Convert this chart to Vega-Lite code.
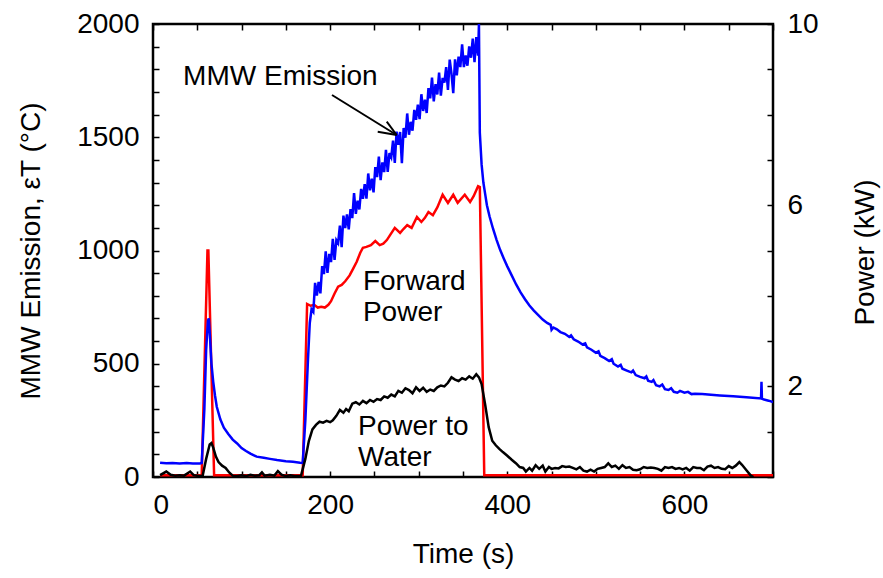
{
  "$schema": "https://vega.github.io/schema/vega-lite/v6.json",
  "width": 620,
  "height": 453,
  "autosize": {"type": "none"},
  "padding": {"left": 153, "top": 24, "right": 110, "bottom": 101},
  "background": "white",
  "config": {
    "view": {"stroke": "black", "strokeWidth": 2.5},
    "axis": {
      "labelFont": "Liberation Sans", "labelFontSize": 28, "labelColor": "black",
      "titleFont": "Liberation Sans", "titleFontSize": 28, "titleFontWeight": "normal", "titleColor": "black",
      "tickColor": "black", "tickWidth": 1.5, "domain": false, "grid": false, "labelPadding": 14
    },
    "text": {"font": "Liberation Sans", "fontSize": 28, "color": "black"}
  },
  "datasets": {
    "blue": [
      {"t":8,"v":63},{"t":15,"v":61},{"t":22,"v":62},{"t":30,"v":60},{"t":38,"v":62},{"t":45,"v":60},{"t":53,"v":60},{"t":55,"v":62},{"t":58,"v":300},{"t":60,"v":560},{"t":62,"v":690},{"t":63,"v":700},{"t":64,"v":640},{"t":66,"v":500},{"t":68,"v":420},{"t":70,"v":360},{"t":72,"v":310},{"t":76,"v":255},{"t":80,"v":218},{"t":85,"v":190},{"t":90,"v":165},{"t":95,"v":148},{"t":100,"v":128},{"t":105,"v":115},{"t":110,"v":103},{"t":117,"v":90},{"t":125,"v":85},{"t":132,"v":80},{"t":140,"v":75},{"t":150,"v":70},{"t":158,"v":67},{"t":166,"v":63},{"t":169,"v":62},{"t":172,"v":250},{"t":175,"v":520},{"t":177,"v":680},
      {"t":179,"v":740},{"t":181,"v":729},{"t":183,"v":857},{"t":185,"v":801},{"t":187,"v":861},{"t":189,"v":811},{"t":191,"v":931},{"t":193,"v":896},{"t":195,"v":996},{"t":197,"v":901},{"t":199,"v":985},{"t":201,"v":949},{"t":203,"v":1051},{"t":205,"v":958},{"t":207,"v":1046},{"t":209,"v":1033},{"t":211,"v":1110},{"t":213,"v":1015},{"t":215,"v":1154},{"t":217,"v":1099},{"t":219,"v":1159},{"t":221,"v":1093},{"t":223,"v":1183},{"t":225,"v":1143},{"t":227,"v":1253},{"t":229,"v":1162},{"t":231,"v":1220},{"t":233,"v":1181},{"t":235,"v":1272},{"t":237,"v":1228},{"t":239,"v":1293},{"t":241,"v":1229},{"t":243,"v":1340},{"t":245,"v":1266},{"t":247,"v":1317},{"t":249,"v":1257},{"t":251,"v":1368},{"t":253,"v":1324},{"t":255,"v":1415},{"t":257,"v":1311},{"t":259,"v":1389},{"t":261,"v":1346},{"t":263,"v":1444},{"t":265,"v":1347},{"t":267,"v":1430},{"t":269,"v":1412},{"t":271,"v":1485},{"t":273,"v":1387},{"t":275,"v":1525},{"t":277,"v":1467},{"t":279,"v":1523},{"t":281,"v":1385},{"t":283,"v":1541},{"t":285,"v":1498},{"t":287,"v":1605},{"t":289,"v":1511},{"t":291,"v":1568},{"t":293,"v":1529},{"t":295,"v":1621},{"t":297,"v":1577},{"t":299,"v":1644},{"t":301,"v":1580},{"t":303,"v":1690},{"t":305,"v":1616},{"t":307,"v":1666},{"t":309,"v":1607},{"t":311,"v":1717},{"t":313,"v":1672},{"t":315,"v":1763},{"t":317,"v":1658},{"t":319,"v":1734},{"t":321,"v":1689},{"t":323,"v":1785},{"t":325,"v":1684},{"t":327,"v":1762},{"t":329,"v":1741},{"t":331,"v":1810},{"t":333,"v":1709},{"t":335,"v":1843},{"t":337,"v":1781},{"t":339,"v":1695},{"t":341,"v":1844},{"t":343,"v":1773},{"t":345,"v":1856},{"t":347,"v":1810},{"t":349,"v":1910},{"t":351,"v":1810},{"t":353,"v":1861},{"t":355,"v":1816},{"t":357,"v":1901},{"t":359,"v":1851},{"t":361,"v":1936},{"t":363,"v":1832},{"t":365,"v":1942},{"t":367,"v":1860},
      {"t":368,"v":2000},{"t":369,"v":1520},{"t":371,"v":1380},{"t":373,"v":1300},{"t":375,"v":1250},{"t":377,"v":1200},{"t":380,"v":1150},{"t":384,"v":1095},{"t":388,"v":1046},{"t":392,"v":1002},{"t":396,"v":965},{"t":400,"v":930},{"t":405,"v":890},{"t":410,"v":850},{"t":415,"v":815},{"t":420,"v":785},{"t":425,"v":757},{"t":430,"v":735},{"t":435,"v":715},{"t":440,"v":695},{"t":445,"v":680},{"t":449,"v":672},{"t":450,"v":650},{"t":452,"v":660},{"t":456,"v":652},{"t":460,"v":640},{"t":465,"v":632},{"t":470,"v":618},{"t":472,"v":625},{"t":475,"v":608},{"t":480,"v":598},{"t":485,"v":585},{"t":488,"v":590},{"t":490,"v":572},{"t":495,"v":562},{"t":500,"v":548},{"t":503,"v":555},{"t":505,"v":535},{"t":510,"v":525},{"t":515,"v":512},{"t":518,"v":520},{"t":520,"v":500},{"t":525,"v":488},{"t":528,"v":495},{"t":530,"v":478},{"t":535,"v":470},{"t":540,"v":462},{"t":542,"v":470},{"t":545,"v":450},{"t":550,"v":442},{"t":555,"v":436},{"t":557,"v":444},{"t":559,"v":425},{"t":563,"v":420},{"t":565,"v":428},{"t":568,"v":405},{"t":572,"v":400},{"t":575,"v":408},{"t":578,"v":388},{"t":582,"v":384},{"t":585,"v":392},{"t":588,"v":376},{"t":592,"v":372},{"t":595,"v":380},{"t":600,"v":372},{"t":604,"v":376},{"t":608,"v":366},{"t":612,"v":368},{"t":620,"v":366},{"t":630,"v":363},{"t":640,"v":360},{"t":655,"v":356},{"t":670,"v":352},{"t":686.5,"v":347},{"t":687,"v":420},{"t":687.5,"v":345},{"t":695,"v":337},{"t":700,"v":331}
    ],
    "red": [
      {"t":8,"p":0.04},{"t":55,"p":0.04},{"t":61.5,"p":5.0},{"t":62.5,"p":5.0},{"t":69,"p":0.04},{"t":169,"p":0.04},{"t":174,"p":3.82},{"t":178,"p":3.78},{"t":182,"p":3.8},{"t":186,"p":3.74},{"t":190,"p":3.76},{"t":194,"p":3.74},{"t":198,"p":3.8},{"t":201,"p":3.88},{"t":205,"p":4.05},{"t":209,"p":4.2},{"t":213,"p":4.24},{"t":217,"p":4.32},{"t":222,"p":4.45},{"t":226,"p":4.6},{"t":230,"p":4.75},{"t":234,"p":4.95},{"t":237,"p":5.06},{"t":241,"p":5.08},{"t":246,"p":5.12},{"t":251,"p":5.21},{"t":256,"p":5.12},{"t":260,"p":5.15},{"t":264,"p":5.23},{"t":268,"p":5.35},{"t":273,"p":5.5},{"t":279,"p":5.39},{"t":283,"p":5.48},{"t":287,"p":5.56},{"t":292,"p":5.5},{"t":298,"p":5.74},{"t":303,"p":5.63},{"t":307,"p":5.72},{"t":311,"p":5.85},{"t":316,"p":5.78},{"t":321,"p":5.95},{"t":327,"p":6.23},{"t":333,"p":6.05},{"t":339,"p":6.23},{"t":344,"p":6.05},{"t":352,"p":6.23},{"t":358,"p":6.07},{"t":362,"p":6.2},{"t":367,"p":6.42},{"t":369,"p":6.4},{"t":374,"p":0.04},{"t":700,"p":0.04}
    ],
    "black": [
      {"t":8,"p":0.04},{"t":15,"p":0.12},{"t":20,"p":0.05},{"t":25,"p":0.03},{"t":30,"p":0.04},{"t":35,"p":0.03},{"t":42,"p":0.12},{"t":46,"p":0.04},{"t":52,"p":0.02},{"t":56,"p":0.02},{"t":60,"p":0.4},{"t":64,"p":0.72},{"t":66,"p":0.75},{"t":68,"p":0.65},{"t":71,"p":0.45},{"t":74,"p":0.33},{"t":78,"p":0.25},{"t":82,"p":0.2},{"t":86,"p":0.1},{"t":90,"p":0.03},{"t":95,"p":0.02},{"t":100,"p":0.04},{"t":105,"p":0.02},{"t":110,"p":0.05},{"t":115,"p":0.03},{"t":120,"p":0.04},{"t":123,"p":0.1},{"t":126,"p":0.03},{"t":132,"p":0.05},{"t":137,"p":0.03},{"t":141,"p":0.13},{"t":145,"p":0.05},{"t":150,"p":0.02},{"t":155,"p":0.04},{"t":160,"p":0.02},{"t":167,"p":0.02},{"t":172,"p":0.4},{"t":176,"p":0.8},{"t":180,"p":1.05},{"t":184,"p":1.15},{"t":188,"p":1.22},{"t":192,"p":1.2},{"t":196,"p":1.24},{"t":200,"p":1.21},{"t":203,"p":1.25},{"t":207,"p":1.35},{"t":211,"p":1.48},{"t":215,"p":1.42},{"t":218,"p":1.5},{"t":221,"p":1.45},{"t":225,"p":1.62},{"t":229,"p":1.65},{"t":233,"p":1.6},{"t":237,"p":1.68},{"t":241,"p":1.63},{"t":245,"p":1.7},{"t":249,"p":1.66},{"t":253,"p":1.72},{"t":257,"p":1.7},{"t":261,"p":1.78},{"t":265,"p":1.75},{"t":269,"p":1.82},{"t":273,"p":1.78},{"t":277,"p":1.9},{"t":281,"p":1.86},{"t":285,"p":1.96},{"t":289,"p":1.92},{"t":293,"p":1.85},{"t":297,"p":1.98},{"t":301,"p":1.9},{"t":305,"p":1.97},{"t":309,"p":1.88},{"t":313,"p":1.93},{"t":317,"p":1.9},{"t":321,"p":1.98},{"t":325,"p":2.02},{"t":329,"p":2.0},{"t":333,"p":2.08},{"t":337,"p":2.2},{"t":341,"p":2.15},{"t":345,"p":2.12},{"t":349,"p":2.18},{"t":353,"p":2.15},{"t":357,"p":2.22},{"t":361,"p":2.17},{"t":365,"p":2.27},{"t":368,"p":2.2},{"t":371,"p":2.05},{"t":375,"p":1.6},{"t":379,"p":1.1},{"t":383,"p":0.8},{"t":387,"p":0.7},{"t":391,"p":0.62},{"t":395,"p":0.55},{"t":400,"p":0.47},{"t":405,"p":0.38},{"t":410,"p":0.3},{"t":414,"p":0.22},{"t":418,"p":0.2},{"t":421,"p":0.12},{"t":425,"p":0.2},{"t":428,"p":0.14},{"t":432,"p":0.26},{"t":436,"p":0.18},{"t":440,"p":0.25},{"t":443,"p":0.12},{"t":447,"p":0.22},{"t":450,"p":0.18},{"t":454,"p":0.2},{"t":458,"p":0.19},{"t":462,"p":0.24},{"t":466,"p":0.22},{"t":470,"p":0.23},{"t":474,"p":0.2},{"t":478,"p":0.17},{"t":482,"p":0.22},{"t":486,"p":0.14},{"t":490,"p":0.12},{"t":494,"p":0.16},{"t":498,"p":0.12},{"t":502,"p":0.18},{"t":506,"p":0.2},{"t":510,"p":0.22},{"t":514,"p":0.3},{"t":518,"p":0.22},{"t":522,"p":0.25},{"t":526,"p":0.18},{"t":530,"p":0.26},{"t":534,"p":0.2},{"t":538,"p":0.22},{"t":542,"p":0.16},{"t":546,"p":0.15},{"t":550,"p":0.17},{"t":554,"p":0.22},{"t":558,"p":0.2},{"t":562,"p":0.21},{"t":566,"p":0.2},{"t":570,"p":0.18},{"t":574,"p":0.14},{"t":578,"p":0.22},{"t":582,"p":0.2},{"t":586,"p":0.22},{"t":590,"p":0.18},{"t":594,"p":0.2},{"t":598,"p":0.17},{"t":602,"p":0.2},{"t":606,"p":0.14},{"t":610,"p":0.22},{"t":614,"p":0.2},{"t":618,"p":0.2},{"t":622,"p":0.15},{"t":626,"p":0.23},{"t":630,"p":0.25},{"t":634,"p":0.2},{"t":638,"p":0.22},{"t":642,"p":0.18},{"t":646,"p":0.17},{"t":650,"p":0.24},{"t":654,"p":0.2},{"t":658,"p":0.25},{"t":662,"p":0.33},{"t":665,"p":0.27},{"t":670,"p":0.15},{"t":675,"p":0.03},{"t":678,"p":0.0}
    ],
    "labels": [
      {"t":34,"v":1766,"text":"MMW Emission"},
      {"t":237,"v":861,"text":"Forward"},
      {"t":237,"v":724,"text":"Power"},
      {"t":231.5,"v":221,"text":"Power to"},
      {"t":231.5,"v":84,"text":"Water"}
    ],
    "arrow": [
      {"x1":202.1,"y1":1686.5,"x2":275.1,"y2":1510},
      {"x1":253.7,"y1":1524.5,"x2":275.1,"y2":1510},
      {"x1":263.9,"y1":1568.7,"x2":275.1,"y2":1510}
    ]
  },
  "layer": [
    {
      "data": {"name": "red"},
      "mark": {"type": "line", "color": "#ff0000", "strokeWidth": 2.5, "clip": true},
      "encoding": {
        "x": {"field": "t", "type": "quantitative", "scale": {"domain": [0, 700], "nice": false},
          "axis": {"orient": "bottom", "title": null, "values": [0,50,100,150,200,250,300,350,400,450,500,550,600,650,700], "labels": false, "ticks": true, "tickSize": 6, "offset": -6}},
        "y": {"field": "p", "type": "quantitative", "scale": {"domain": [0, 10], "nice": false},
          "axis": {"orient": "right", "title": "Power (kW)", "values": [2,6,10], "ticks": false, "format": "d",
            "titleAngle": 270, "titleX": 100, "titleY": 228, "titleBaseline": "alphabetic", "titleAlign": "center"}}
      }
    },
    {
      "data": {"name": "blue"},
      "mark": {"type": "line", "color": "#0000ff", "strokeWidth": 2.5, "clip": true},
      "encoding": {
        "x": {"field": "t", "type": "quantitative", "scale": {"domain": [0, 700], "nice": false},
          "axis": {"orient": "bottom", "title": "Time (s)", "values": [0,200,400,600], "ticks": false, "format": "d",
            "titleX": 310, "titleY": 85, "titleBaseline": "alphabetic", "titleAlign": "center"}},
        "y": {"field": "v", "type": "quantitative", "scale": {"domain": [0, 2000], "nice": false},
          "axis": {"orient": "left", "title": "MMW Emission, εT (°C)", "values": [0,500,1000,1500,2000], "ticks": false, "format": "d",
            "titleAngle": 270, "titleX": -114, "titleY": 226.5, "titleBaseline": "alphabetic", "titleAlign": "center"}}
      }
    },
    {
      "data": {"name": "black"},
      "mark": {"type": "line", "color": "#000000", "strokeWidth": 2.5, "clip": true},
      "encoding": {
        "x": {"field": "t", "type": "quantitative", "scale": {"domain": [0, 700], "nice": false}, "axis": null},
        "y": {"field": "p", "type": "quantitative", "scale": {"domain": [0, 10], "nice": false},
          "axis": {"orient": "right", "title": null, "values": [0,1,2,3,4,5,6,7,8,9,10], "labels": false, "tickSize": 6, "offset": -6}}
      }
    },
    {
      "data": {"name": "labels"},
      "mark": {"type": "text", "align": "left", "baseline": "middle"},
      "encoding": {
        "x": {"field": "t", "type": "quantitative", "scale": {"domain": [0, 700], "nice": false},
          "axis": {"orient": "top", "title": null, "values": [0,50,100,150,200,250,300,350,400,450,500,550,600,650,700], "labels": false, "tickSize": 6, "offset": -6}},
        "y": {"field": "v", "type": "quantitative", "scale": {"domain": [0, 2000], "nice": false}, "axis": null},
        "text": {"field": "text"}
      }
    },
    {
      "data": {"name": "arrow"},
      "mark": {"type": "rule", "color": "black", "strokeWidth": 2},
      "encoding": {
        "x": {"field": "x1", "type": "quantitative", "scale": {"domain": [0, 700], "nice": false}, "axis": null},
        "x2": {"field": "x2"},
        "y": {"field": "y1", "type": "quantitative", "scale": {"domain": [0, 2000], "nice": false},
          "axis": {"orient": "left", "title": null, "values": [0,100,200,300,400,500,600,700,800,900,1000,1100,1200,1300,1400,1500,1600,1700,1800,1900,2000], "labels": false, "tickSize": 6, "offset": -6}},
        "y2": {"field": "y2"}
      }
    }
  ],
  "resolve": {"scale": {"y": "independent"}, "axis": {"x": "independent", "y": "independent"}}
}
